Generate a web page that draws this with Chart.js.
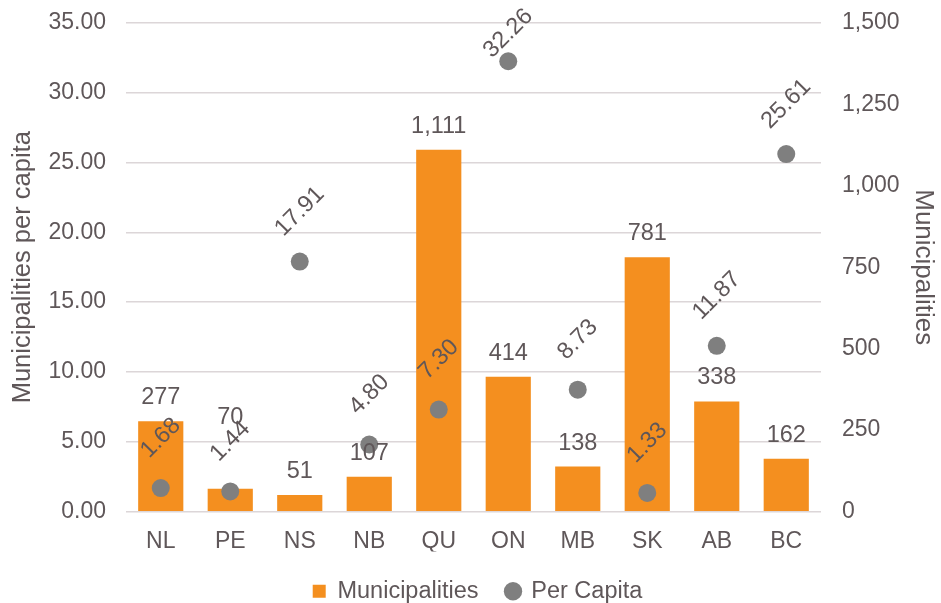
<!DOCTYPE html>
<html>
<head>
<meta charset="utf-8">
<script src="https://cdn.jsdelivr.net/npm/chart.js@4/dist/chart.umd.min.js"></script>
<style>
  html, body { margin: 0; padding: 0; background: #fff; }
  #wrap { width: 941px; height: 603px; }
</style>
</head>
<body>
<div id="wrap"><canvas id="myChart"></canvas></div>
<script>
// data
const provinces = ["NL", "PE", "NS", "NB", "QU", "ON", "MB", "SK", "AB", "BC"];
const municipalities = [277, 70, 51, 107, 1111, 414, 138, 781, 338, 162];
const perCapita = [1.68, 1.44, 17.91, 4.8, 7.3, 32.26, 8.73, 1.33, 11.87, 25.61];
const leftTicks = [0, 5, 10, 15, 20, 25, 30, 35];
const rightTicks = [0, 250, 500, 750, 1000, 1250, 1500];

const textColor = "#5f5759";
const orange = "#F48F1F";
const grey = "#7f7f7f";
const fontFamily = "'Liberation Sans', Arial, sans-serif";

//the PE bar label was dragged up in the original
const barLabelNudge = { PE: -48 };

Chart.defaults.font.family = fontFamily;
Chart.defaults.color = textColor;

//labels on top of the bars and rotated labels above the dots
const valueLabels = {
  id: "valueLabels",
  afterLayout(chart) {
    //legend sits a bit right of centre in the original
    chart.legend.left += 7;
    chart.legend.right += 7;
  },
  afterDatasetsDraw(chart) {
    const ctx = chart.ctx;
    ctx.save();
    ctx.fillStyle = textColor;
    ctx.font = "23.5px " + fontFamily;

    const barMeta = chart.getDatasetMeta(0);
    barMeta.data.forEach((el, i) => {
      const nudge = barLabelNudge[provinces[i]] || 0;
      ctx.textAlign = "center";
      ctx.textBaseline = "alphabetic";
      ctx.fillText(municipalities[i].toLocaleString("en-US"), el.x, el.y - 17 + nudge);
    });

    const dotMeta = chart.getDatasetMeta(1);
    dotMeta.data.forEach((el, i) => {
      const txt = perCapita[i].toFixed(2);
      const w = ctx.measureText(txt).width;
      const half = (w + 16) / (2 * Math.SQRT2);
      const cy = Math.max(el.y - 50, 7 + half);
      ctx.save();
      ctx.translate(el.x, cy);
      ctx.rotate(-Math.PI / 4);
      ctx.textAlign = "center";
      ctx.textBaseline = "middle";
      ctx.fillText(txt, 0, 0);
      ctx.restore();
    });
    ctx.restore();
  },
};

const ctx = document.getElementById("myChart").getContext("2d");
new Chart(ctx, {
  type: "bar",
  data: {
    labels: provinces,
    datasets: [
      {
        label: "Municipalities",
        data: municipalities,
        yAxisID: "y1",
        backgroundColor: orange,
        pointStyle: "rect",
        categoryPercentage: 1,
        barPercentage: 0.65,
        order: 2,
      },
      {
        type: "line",
        label: "Per Capita",
        data: perCapita,
        yAxisID: "y",
        showLine: false,
        pointStyle: "circle",
        pointRadius: 9,
        pointHoverRadius: 9,
        pointBorderWidth: 0,
        pointBackgroundColor: grey,
        backgroundColor: grey,
        borderColor: grey,
        order: 1,
      },
    ],
  },
  options: {
    responsive: true,
    maintainAspectRatio: false,
    animation: false,
    layout: { padding: { top: 23, left: 0, right: 0, bottom: -10 } },
    plugins: {
      tooltip: { enabled: false },
      legend: {
        display: true,
        position: "bottom",
        labels: {
          usePointStyle: true,
          boxWidth: 13,
          boxHeight: 13,
          padding: 28,
          color: textColor,
          font: { size: 23.5 },
          sort: (a, b) => a.datasetIndex - b.datasetIndex,
        },
      },
    },
    scales: {
      x: {
        grid: { display: false, drawTicks: false },
        border: { display: false },
        ticks: { padding: 16, font: { size: 23 }, color: textColor },
        afterFit(scale) {
          scale.height = 40;
        },
      },
      y: {
        position: "left",
        min: 0,
        max: 35,
        afterBuildTicks(scale) {
          scale.ticks = leftTicks.map((v) => ({ value: v }));
        },
        grid: { color: "#dcd6d8", lineWidth: 1.5, drawTicks: false },
        border: { display: false },
        ticks: {
          padding: 20,
          font: { size: 23 },
          color: textColor,
          callback: (v) => Number(v).toFixed(2),
        },
        title: {
          display: true,
          text: "Municipalities per capita",
          font: { size: 25.5 },
          color: textColor,
          padding: { top: 8, bottom: 0 },
        },
        afterFit(scale) {
          scale.width = 126;
          scale.paddingTop = 0;
          scale.paddingBottom = 0;
        },
      },
      y1: {
        position: "right",
        min: 0,
        max: 1500,
        afterBuildTicks(scale) {
          scale.ticks = rightTicks.map((v) => ({ value: v }));
        },
        grid: { drawOnChartArea: false, drawTicks: false },
        border: { display: false },
        ticks: {
          padding: 21,
          font: { size: 23 },
          color: textColor,
          callback: (v) => Number(v).toLocaleString("en-US"),
        },
        title: {
          display: true,
          text: "Municipalities",
          font: { size: 26 },
          color: textColor,
          padding: { top: 2, bottom: 0 },
        },
        afterFit(scale) {
          scale.width = 120;
          scale.paddingTop = 0;
          scale.paddingBottom = 0;
        },
      },
    },
  },
  plugins: [valueLabels],
});
</script>
</body>
</html>
